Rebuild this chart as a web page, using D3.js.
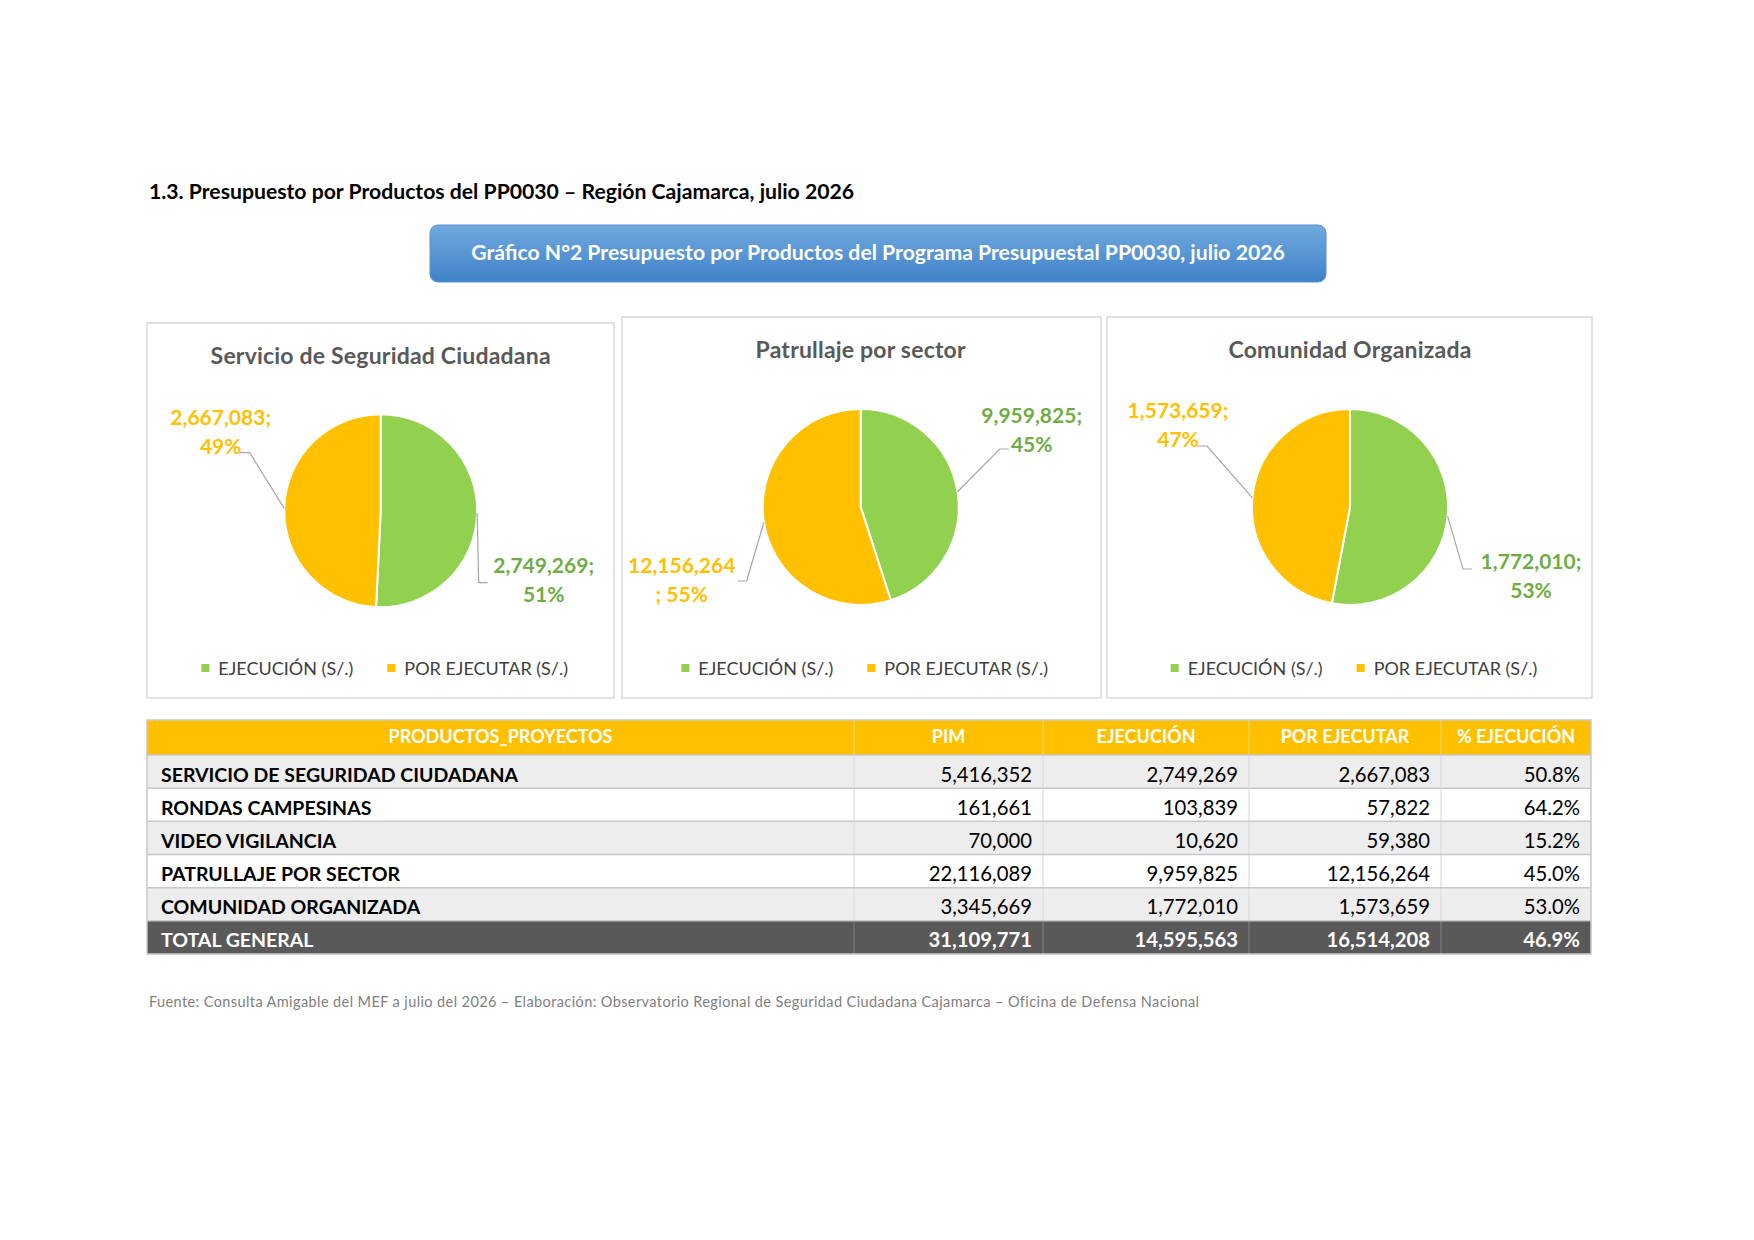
<!DOCTYPE html>
<html>
<head>
<meta charset="utf-8">
<script src="https://cdn.jsdelivr.net/npm/d3@7"></script>
<style>
  body { margin: 0; background: #fff; }
  svg { display: block; font-family: Lato, "Open Sans", sans-serif; }
</style>
</head>
<body>
<div class="grafico"></div>
<script>
var productos = ["SERVICIO DE SEGURIDAD CIUDADANA", "RONDAS CAMPESINAS", "VIDEO VIGILANCIA",
                 "PATRULLAJE POR SECTOR", "COMUNIDAD ORGANIZADA"];
var pim = [5416352, 161661, 70000, 22116089, 3345669];
var ejecucion = [2749269, 103839, 10620, 9959825, 1772010];
var porEjecutar = [2667083, 57822, 59380, 12156264, 1573659];
var pctEjecucion = [50.8, 64.2, 15.2, 45.0, 53.0];
var columnas = ["PRODUCTOS_PROYECTOS", "PIM", "EJECUCIÓN", "POR EJECUTAR", "% EJECUCIÓN"];
var filaTotal = "TOTAL GENERAL";

var pieTitulos = ["Servicio de Seguridad Ciudadana", "Patrullaje por sector", "Comunidad Organizada"];
var pieProductos = [0, 3, 4];
var series = ["EJECUCIÓN (S/.)", "POR EJECUTAR (S/.)"];

var titulo = "1.3. Presupuesto por Productos del PP0030 – Región Cajamarca, julio 2026";
var banner = "Gráfico N°2 Presupuesto por Productos del Programa Presupuestal PP0030, julio 2026";
var fuente = "Fuente: Consulta Amigable del MEF a julio del 2026 – Elaboración: Observatorio Regional de Seguridad Ciudadana Cajamarca – Oficina de Defensa Nacional";

// Colores
var verde = "#92D050", amarillo = "#FFC000";
var verdeTexto = "#6FAC46", amarilloTexto = "#FFC000";
var colores = [verde, amarillo], coloresTexto = [verdeTexto, amarilloTexto];

var width = 1754, height = 1240;
var fmt = d3.format(",");
var fmtPct = d3.format(".0%");

var svg = d3.select(".grafico").append("svg")
    .attr("width", width)
    .attr("height", height);

svg.append("rect").attr("width", width).attr("height", height).attr("fill", "#fff");

// Titulo de la seccion
svg.append("text")
    .attr("x", 149).attr("y", 199)
    .attr("font-size", 21.2).attr("font-weight", "bold").attr("fill", "#000")
    .text(titulo);

// Banner azul
var grad = svg.append("defs").append("linearGradient")
    .attr("id", "azul").attr("x1", 0).attr("y1", 0).attr("x2", 0).attr("y2", 1);
grad.append("stop").attr("offset", "0%").attr("stop-color", "#71a9de");
grad.append("stop").attr("offset", "100%").attr("stop-color", "#3f82c8");

svg.append("rect")
    .attr("x", 430).attr("y", 225).attr("width", 896).attr("height", 57)
    .attr("rx", 8).attr("fill", "url(#azul)")
    .attr("stroke", "#5a93d0").attr("stroke-width", 1);
svg.append("text")
    .attr("x", 878).attr("y", 260)
    .attr("text-anchor", "middle")
    .attr("font-size", 21.2).attr("font-weight", "bold").attr("fill", "#fff")
    .text(banner);

// Paneles de los pies
var paneles = [
    {x: 147, y: 323, w: 467, h: 375, cx: 380.7, cy: 510.7, r: 96.5,
     etiquetas: [
        {lx: 163, ly: 62, codo: [98, 72], fin: [107, 72], corte: "despues"},
        {lx: -160, ly: -86, codo: [-131, -58], fin: [-141, -58], corte: "despues"}]},
    {x: 622, y: 317, w: 479, h: 381, cx: 860.7, cy: 507, r: 98,
     etiquetas: [
        {lx: 171, ly: -84, codo: [139, -58], fin: [148, -58], corte: "despues"},
        {lx: -179, ly: 66, codo: [-114, 74], fin: [-123, 74], corte: "antes"}]},
    {x: 1107, y: 317, w: 485, h: 381, cx: 1350, cy: 507, r: 98,
     etiquetas: [
        {lx: 181, ly: 62, codo: [113, 62], fin: [122, 62], corte: "despues"},
        {lx: -172, ly: -89, codo: [-143, -61], fin: [-153, -61], corte: "despues"}]}
];

var pie = d3.pie().sort(null).value(function(d) { return d; });

paneles.forEach(function(p, k) {
    var idx = pieProductos[k];
    var valores = [ejecucion[idx], porEjecutar[idx]];
    var total = d3.sum(valores);

    var panel = svg.append("g");
    panel.append("rect")
        .attr("x", p.x).attr("y", p.y).attr("width", p.w).attr("height", p.h)
        .attr("fill", "#fff").attr("stroke", "#d9d9d9").attr("stroke-width", 1.5);

    panel.append("text")
        .attr("x", p.cx).attr("y", p.y + 41)
        .attr("text-anchor", "middle")
        .attr("font-size", 23).attr("font-weight", "bold").attr("fill", "#595959")
        .attr("letter-spacing", 0.2)
        .text(pieTitulos[k]);

    var arc = d3.arc().innerRadius(0).outerRadius(p.r);
    var borde = d3.arc().innerRadius(p.r).outerRadius(p.r);

    var g = panel.append("g")
        .attr("transform", "translate(" + p.cx + "," + p.cy + ")");

    var arcos = pie(valores);

    g.selectAll(".slice")
        .data(arcos)
        .enter().append("path")
        .attr("class", "slice")
        .attr("d", arc)
        .attr("fill", function(d, i) { return colores[i]; })
        .attr("stroke", "#fff")
        .attr("stroke-width", 2);

    // lineas guia
    g.selectAll(".guia")
        .data(arcos)
        .enter().append("polyline")
        .attr("class", "guia")
        .attr("fill", "none")
        .attr("stroke", "#a6a6a6")
        .attr("stroke-width", 1.2)
        .attr("points", function(d, i) {
            var e = p.etiquetas[i];
            return [borde.centroid(d), e.codo, e.fin].join(" ");
        });

    // etiquetas de datos
    var lab = g.selectAll(".etq")
        .data(arcos)
        .enter().append("text")
        .attr("class", "etq")
        .attr("text-anchor", "middle")
        .attr("font-size", 21).attr("font-weight", "bold")
        .attr("fill", function(d, i) { return coloresTexto[i]; });

    lab.each(function(d, i) {
        var e = p.etiquetas[i];
        var v = fmt(d.data), pc = fmtPct(d.data / total);
        var lineas = e.corte === "antes" ? [v, "; " + pc] : [v + ";", pc];
        d3.select(this).selectAll("tspan")
            .data(lineas)
            .enter().append("tspan")
            .attr("x", e.lx)
            .attr("y", function(t, j) { return e.ly + j * 29; })
            .text(function(t) { return t; });
    });

    // leyenda
    var ley = panel.append("g");
    var xx = 0;
    series.forEach(function(s, i) {
        ley.append("rect")
            .attr("x", xx).attr("y", -4).attr("width", 8).attr("height", 8)
            .attr("fill", colores[i]);
        var t = ley.append("text")
            .attr("x", xx + 17).attr("y", 6.5)
            .attr("font-size", 18).attr("fill", "#404040")
            .text(s);
        xx += 17 + t.node().getComputedTextLength() + 34;
    });
    var anchoLey = xx - 34;
    ley.attr("transform", "translate(" + (p.cx + 4 - anchoLey / 2) + "," + 668 + ")");
});

// Tabla
var colX = [147, 854, 1043, 1249, 1441, 1591];
var headTop = 720, headBot = 755, tablaBot = 954;

var filas = productos.map(function(nombre, i) {
    return {nombre: nombre, vals: [fmt(pim[i]), fmt(ejecucion[i]), fmt(porEjecutar[i]), pctEjecucion[i].toFixed(1) + "%"], total: false};
});
var tPim = d3.sum(pim), tEje = d3.sum(ejecucion), tPor = d3.sum(porEjecutar);
filas.push({nombre: filaTotal,
            vals: [fmt(tPim), fmt(tEje), fmt(tPor), (tEje / tPim * 100).toFixed(1) + "%"],
            total: true});

var y = d3.scaleBand()
    .domain(d3.range(filas.length))
    .range([headBot, tablaBot]);

var tabla = svg.append("g");

// encabezado
tabla.append("rect")
    .attr("x", colX[0]).attr("y", headTop)
    .attr("width", colX[5] - colX[0]).attr("height", headBot - headTop)
    .attr("fill", amarillo);
tabla.selectAll(".sepHead")
    .data(colX.slice(1, 5))
    .enter().append("line")
    .attr("x1", function(d) { return d; }).attr("x2", function(d) { return d; })
    .attr("y1", headTop).attr("y2", headBot)
    .attr("stroke", "#ffd24d").attr("stroke-width", 1.5);
tabla.selectAll(".txtHead")
    .data(columnas)
    .enter().append("text")
    .attr("x", function(d, i) { return (colX[i] + colX[i + 1]) / 2; })
    .attr("y", headTop + 23)
    .attr("text-anchor", "middle")
    .attr("font-size", 18).attr("font-weight", "bold").attr("fill", "#fff")
    .text(function(d) { return d; });

// filas
var fila = tabla.selectAll(".fila")
    .data(filas)
    .enter().append("g")
    .attr("class", "fila")
    .attr("transform", function(d, i) { return "translate(0," + y(i) + ")"; });

fila.append("rect")
    .attr("x", colX[0]).attr("width", colX[5] - colX[0])
    .attr("height", y.bandwidth())
    .attr("fill", function(d, i) { return d.total ? "#595959" : (i % 2 === 0 ? "#ededed" : "#ffffff"); });

fila.each(function(d, i) {
    var f = d3.select(this);
    f.selectAll(".sep")
        .data(colX.slice(1, 5))
        .enter().append("line")
        .attr("x1", function(c) { return c; }).attr("x2", function(c) { return c; })
        .attr("y1", 0).attr("y2", y.bandwidth())
        .attr("stroke", d.total ? "#7a7a7a" : "#dcdcdc").attr("stroke-width", 1.2);
});

fila.append("line")
    .attr("x1", colX[0]).attr("x2", colX[5])
    .attr("y1", 0).attr("y2", 0)
    .attr("stroke", "#c8c8c8").attr("stroke-width", 1.5);

fila.append("text")
    .attr("x", colX[0] + 14)
    .attr("y", y.bandwidth() / 2 + 10)
    .attr("font-size", 19.5).attr("font-weight", "bold")
    .attr("fill", function(d) { return d.total ? "#fff" : "#000"; })
    .text(function(d) { return d.nombre; });

fila.each(function(d) {
    d3.select(this).selectAll(".num")
        .data(d.vals)
        .enter().append("text")
        .attr("class", "num")
        .attr("x", function(v, j) { return colX[j + 2] - 11; })
        .attr("y", y.bandwidth() / 2 + 10)
        .attr("text-anchor", "end")
        .attr("font-size", 20.3)
        .attr("font-weight", d.total ? "bold" : "normal")
        .attr("fill", d.total ? "#fff" : "#000")
        .text(function(v) { return v; });
});

// borde exterior
tabla.append("rect")
    .attr("x", colX[0]).attr("y", headTop)
    .attr("width", colX[5] - colX[0]).attr("height", tablaBot - headTop)
    .attr("fill", "none").attr("stroke", "#c8c8c8").attr("stroke-width", 1.5);

// Fuente
svg.append("text")
    .attr("x", 149).attr("y", 1007)
    .attr("font-size", 14.5).attr("fill", "#808080")
    .attr("letter-spacing", 0.4)
    .text(fuente);
</script>
</body>
</html>
